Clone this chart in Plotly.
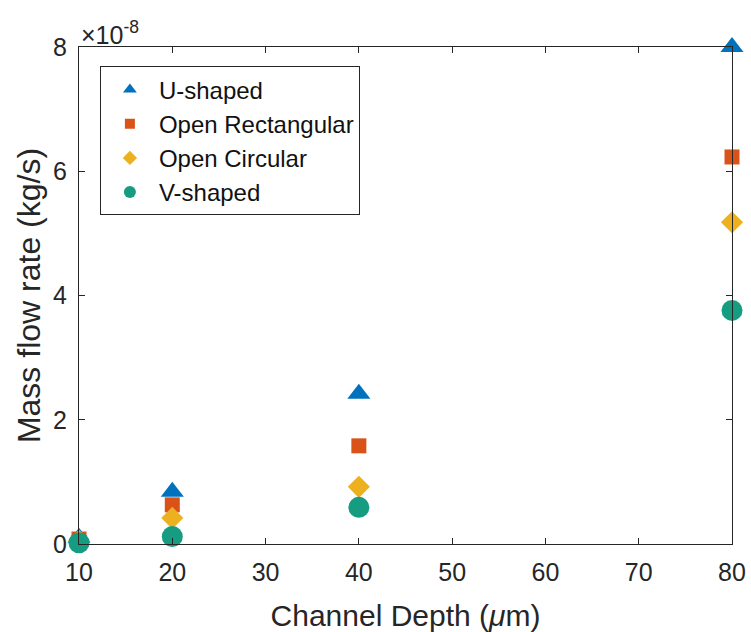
import plotly.graph_objects as go

depth = [10, 20, 40, 80]
u_shaped = [0.10e-8, 0.84e-8, 2.42e-8, 8.00e-8]
open_rect = [0.08e-8, 0.63e-8, 1.58e-8, 6.23e-8]
open_circ = [0.05e-8, 0.42e-8, 0.92e-8, 5.18e-8]
v_shaped = [0.02e-8, 0.12e-8, 0.59e-8, 3.76e-8]

names = ["U-shaped", "Open Rectangular", "Open Circular", "V-shaped"]
series = [u_shaped, open_rect, open_circ, v_shaped]
colors = ["#0072BD", "#D95319", "#EDB120", "#169C80"]
symbols = ["triangle-up", "square", "diamond", "circle"]
sizes = [20, 15, 17, 21]
leg_sizes = [12, 10, 11, 12]

fig = go.Figure()
for n, s, c, sym, sz in zip(names, series, colors, symbols, sizes):
    fig.add_trace(go.Scatter(x=depth, y=s, mode="markers", name=n, showlegend=False,
                             cliponaxis=False,
                             marker=dict(color=c, symbol=sym, size=sz, line=dict(width=0))))
for n, c, sym, sz in zip(names, colors, symbols, leg_sizes):
    fig.add_trace(go.Scatter(x=[None], y=[None], mode="markers", name=n,
                             marker=dict(color=c, symbol=sym, size=sz, line=dict(width=0))))

axis_common = dict(showline=True, linecolor="#262626", linewidth=1, mirror="ticks",
                   ticks="inside", ticklen=6, tickcolor="#262626", showgrid=False,
                   zeroline=False, automargin=False,
                   tickfont=dict(size=25, color="#262626"))

fig.update_xaxes(range=[10, 80], tickvals=[10, 20, 30, 40, 50, 60, 70, 80],
                 ticklabelstandoff=6,
                 title=dict(text="Channel Depth (<i>μ</i>m)", font=dict(size=30, color="#262626"), standoff=20),
                 **axis_common)
fig.update_yaxes(range=[0, 8e-8], tickvals=[0, 2e-8, 4e-8, 6e-8, 8e-8],
                 ticktext=["0", "2", "4", "6", "8"], ticklabelstandoff=6,
                 title=dict(text="Mass flow rate (kg/s)", font=dict(size=32, color="#262626"), standoff=2),
                 **axis_common)

fig.add_annotation(text="×10<sup>-8</sup>", xref="paper", yref="paper", x=0.0, y=1.0,
                   xanchor="left", yanchor="bottom", showarrow=False,
                   font=dict(size=25, color="#262626"), yshift=-4)

fig.update_layout(
    width=751, height=632,
    margin=dict(l=79, r=19, t=47, b=88),
    plot_bgcolor="white", paper_bgcolor="white",
    font=dict(family="Liberation Sans, Arial, sans-serif", color="#262626"),
    legend=dict(x=0.032, y=0.961, xanchor="left", yanchor="top",
                bordercolor="#262626", borderwidth=1, bgcolor="white",
                itemwidth=48,
                font=dict(size=24, color="#111111")),
)

fig.write_html("out.html", config={"displayModeBar": False},
               post_script=["document.body.style.margin='0';"])
